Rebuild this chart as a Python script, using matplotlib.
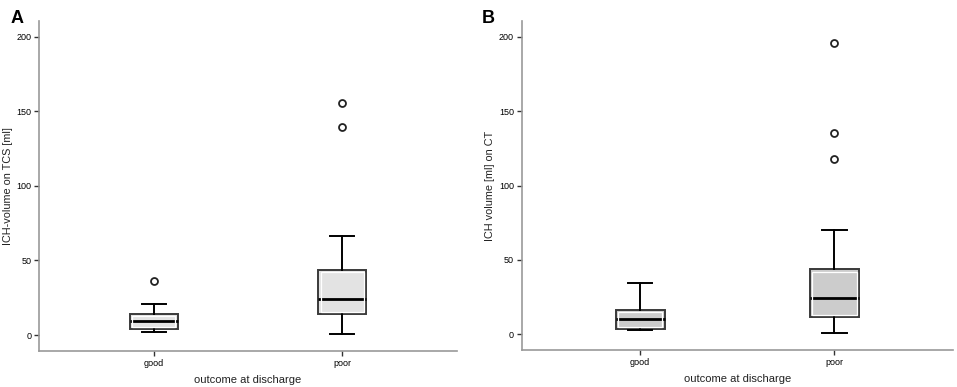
import numpy as np
import matplotlib
matplotlib.use("Agg")
import matplotlib.pyplot as plt
from matplotlib.patches import Rectangle

plt.rcParams['font.family'] = ['Liberation Sans', 'DejaVu Sans']

groups = ["good", "poor"]

# panel A: ICH volume on TCS (whislo, q1, med, q3, whishi, outliers)
tcs_whislo = [1.8, 0.6]
tcs_q1 = [4.2, 14.1]
tcs_med = [9.4, 23.9]
tcs_q3 = [14.4, 43.9]
tcs_whishi = [20.9, 66.4]
tcs_fliers = [[36.4], [155.7, 139.6]]

# panel B: ICH volume on CT
ct_whislo = [2.9, 1.1]
ct_q1 = [3.6, 11.6]
ct_med = [10.1, 24.2]
ct_q3 = [16.3, 43.7]
ct_whishi = [34.3, 70.1]
ct_fliers = [[], [195.9, 135.0, 117.6]]

W, H = 957, 387
fig = plt.figure(figsize=(W / 100, H / 100), dpi=100)


def panel(rect, lo, q1, med, q3, hi, fliers, fill, ylabel, letter, lx):
    ax = fig.add_axes(rect)
    stats = []
    for i in range(len(groups)):
        stats.append(dict(whislo=lo[i], q1=q1[i], med=med[i], q3=q3[i],
                          whishi=hi[i], fliers=fliers[i], label=groups[i]))
    bw = 0.252
    ax.bxp(stats, positions=[1, 2], widths=bw, patch_artist=True,
           boxprops=dict(facecolor=fill, edgecolor="#3a3a3a", linewidth=1.4),
           medianprops=dict(color="black", linewidth=2),
           whiskerprops=dict(color="black", linewidth=1.4),
           capprops=dict(color="black", linewidth=1.4),
           capwidths=bw / 2,
           flierprops=dict(marker="o", markersize=5, markerfacecolor="white",
                           markeredgecolor="#222222", markeredgewidth=1.3))
    ax.set_xlim(0.39, 2.61)
    ax.set_ylim(-10.7, 210.5)

    # thin white inner border, as in the SPSS boxes
    xpx = rect[2] * W / (2.61 - 0.39)
    ypx = rect[3] * H / (210.5 + 10.7)
    dx, dy = 2.2 / xpx, 2.2 / ypx
    for i, p in enumerate([1, 2]):
        ax.add_patch(Rectangle((p - bw / 2 + dx, q1[i] + dy), bw - 2 * dx,
                               q3[i] - q1[i] - 2 * dy, fill=False,
                               edgecolor="white", linewidth=0.9, zorder=2.5))

    ax.set_yticks([0, 50, 100, 150, 200])
    ax.set_xticks([1, 2])
    ax.set_xticklabels(groups)
    ax.tick_params(labelsize=6.5, length=3.5, width=1, color="#333333", pad=2)
    for s in ["top", "right"]:
        ax.spines[s].set_visible(False)
    for s in ["left", "bottom"]:
        ax.spines[s].set_color("#999999")
        ax.spines[s].set_linewidth(1.2)
    ax.set_ylabel(ylabel, fontsize=7.8, color="#222222")
    ax.yaxis.set_label_coords(-0.062, 0.5)
    ax.set_xlabel("outcome at discharge", fontsize=8, labelpad=5, color="#222222")
    fig.text(lx, 0.975, letter, fontsize=13, fontweight="bold", va="top")
    return ax


panel([0.0408, 0.093, 0.4367, 0.8527], tcs_whislo, tcs_q1, tcs_med, tcs_q3,
      tcs_whishi, tcs_fliers, "#e3e3e3", "ICH-volume on TCS [ml]", "A", 0.011)
panel([0.5451, 0.0948, 0.4507, 0.8509], ct_whislo, ct_q1, ct_med, ct_q3,
      ct_whishi, ct_fliers, "#cccccc", "ICH volume [ml] on CT", "B", 0.503)

fig.savefig("out.png", dpi=100)
